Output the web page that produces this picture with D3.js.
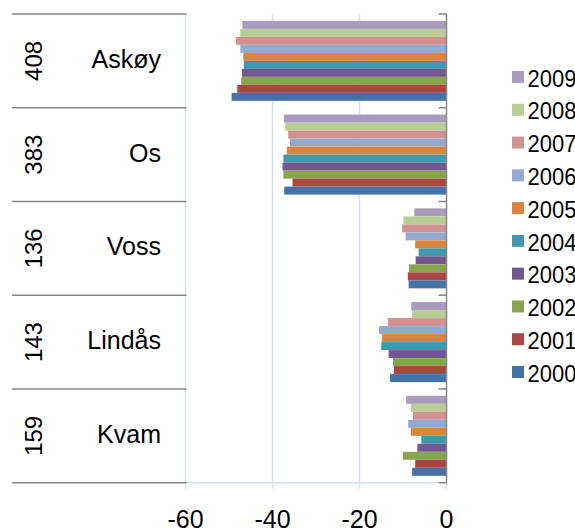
<!DOCTYPE html>
<html>
<head>
<meta charset="utf-8">
<script src="https://cdn.jsdelivr.net/npm/d3@7"></script>
<style>
  body { margin: 0; background: #fff; }
  text { font-family: Arial, "Liberation Sans", sans-serif; fill: #000; }
</style>
</head>
<body>
<svg id="chart" width="575" height="532"></svg>
<script>
// ---- data ----
const municipalities = ["Askøy", "Os", "Voss", "Lindås", "Kvam"];
const codes = ["408", "383", "136", "143", "159"];
const years = ["2009", "2008", "2007", "2006", "2005", "2004", "2003", "2002", "2001", "2000"];
const colors = ["#A99BBD", "#B9CD96", "#D19392", "#93A9CF", "#DB843D", "#4198AF", "#71588F", "#89A54E", "#AA4643", "#4572A7"];
// values per municipality, ordered as `years` (2009 … 2000)
const valAskoy  = [-46.9, -47.4, -48.4, -47.4, -46.7, -46.6, -47.0, -47.2, -48.1, -49.4];
const valOs     = [-37.4, -37.1, -36.4, -36.0, -36.7, -37.5, -37.7, -37.5, -35.4, -37.3];
const valVoss   = [-7.4, -9.9, -10.2, -9.4, -7.2, -6.4, -7.1, -8.6, -8.9, -8.7];
const valLindas = [-8.1, -7.9, -13.5, -15.5, -14.8, -15.0, -13.3, -12.3, -12.1, -13.0];
const valKvam   = [-9.3, -8.2, -7.7, -8.8, -8.2, -5.8, -6.7, -10.0, -7.2, -7.9];
const xTicks = [-60, -40, -20, 0];

const seriesByMun = [valAskoy, valOs, valVoss, valLindas, valKvam];

// ---- layout ----
const svg = d3.select("#chart");
const plot = { left: 185.5, right: 446.5, top: 14, bottom: 482.7 };

const x = d3.scaleLinear().domain([-60, 0]).range([plot.left, plot.right]);
const yCat = d3.scaleBand().domain(municipalities).range([plot.top, plot.bottom]).padding(0);
const yYear = d3.scaleBand().domain(years).range([0, yCat.bandwidth()]).paddingInner(0).paddingOuter(0.86);
const color = d3.scaleOrdinal().domain(years).range(colors);

const gridColor = "#D6E1F0";
const axisColor = "#868686";

// vertical gridlines
svg.append("g").selectAll("line").data(xTicks.filter(d => d !== 0)).join("line")
  .attr("x1", d => x(d)).attr("x2", d => x(d))
  .attr("y1", plot.top).attr("y2", plot.bottom + 6)
  .attr("stroke", gridColor).attr("stroke-width", 1.5);

// bottom axis line
svg.append("line")
  .attr("x1", plot.left).attr("x2", plot.right)
  .attr("y1", plot.bottom).attr("y2", plot.bottom)
  .attr("stroke", gridColor).attr("stroke-width", 1.5);
svg.append("line")
  .attr("x1", x(0)).attr("x2", x(0))
  .attr("y1", plot.bottom).attr("y2", plot.bottom + 6)
  .attr("stroke", gridColor).attr("stroke-width", 1.5);

// bars
const groups = svg.append("g").selectAll("g").data(municipalities).join("g")
  .attr("transform", d => `translate(0,${yCat(d)})`);
groups.each(function(m, i) {
  const vals = seriesByMun[i];
  d3.select(this).selectAll("rect").data(years.map((yr, j) => ({ yr, v: vals[j] }))).join("rect")
    .attr("x", d => x(Math.min(0, d.v)))
    .attr("width", d => Math.abs(x(d.v) - x(0)))
    .attr("y", d => yYear(d.yr))
    .attr("height", yYear.bandwidth())
    .attr("fill", d => color(d.yr));
});

// category (zero) axis line with ticks
svg.append("line")
  .attr("x1", x(0)).attr("x2", x(0))
  .attr("y1", plot.top).attr("y2", plot.bottom)
  .attr("stroke", axisColor).attr("stroke-width", 1.5);
const boundaries = municipalities.map(m => yCat(m)).concat([plot.bottom]);
svg.append("g").selectAll("line").data(boundaries).join("line")
  .attr("x1", x(0) - 8).attr("x2", x(0))
  .attr("y1", d => d).attr("y2", d => d)
  .attr("stroke", axisColor).attr("stroke-width", 1.5);

// label table lines on the left
svg.append("g").selectAll("line").data(boundaries).join("line")
  .attr("x1", 12).attr("x2", plot.left + 1)
  .attr("y1", d => d).attr("y2", d => d)
  .attr("stroke", axisColor).attr("stroke-width", 1.5);

// municipality names
svg.append("g").selectAll("text").data(municipalities).join("text")
  .attr("x", 161)
  .attr("y", d => yCat(d) + yCat.bandwidth() / 2 + 7)
  .attr("text-anchor", "end")
  .attr("font-size", 25)
  .text(d => d);

// codes (rotated)
svg.append("g").selectAll("text").data(municipalities).join("text")
  .attr("transform", (d) => `translate(42,${yCat(d) + yCat.bandwidth() / 2}) rotate(-90)`)
  .attr("text-anchor", "middle")
  .attr("font-size", 24)
  .text((d, i) => codes[i]);

// x tick labels
svg.append("g").selectAll("text").data(xTicks).join("text")
  .attr("x", d => x(d))
  .attr("y", 528)
  .attr("text-anchor", "middle")
  .attr("font-size", 25)
  .text(d => d);

// legend
const legY = d3.scalePoint().domain(years).range([71, 366]);
const leg = svg.append("g").selectAll("g").data(years).join("g")
  .attr("transform", d => `translate(512,${legY(d)})`);
leg.append("rect").attr("width", 12).attr("height", 12).attr("fill", d => color(d));
leg.append("text").attr("x", 15.5).attr("y", 14).attr("font-size", 22)
  .attr("transform", "scale(1,1.12)")
  .text(d => d);
</script>
</body>
</html>
